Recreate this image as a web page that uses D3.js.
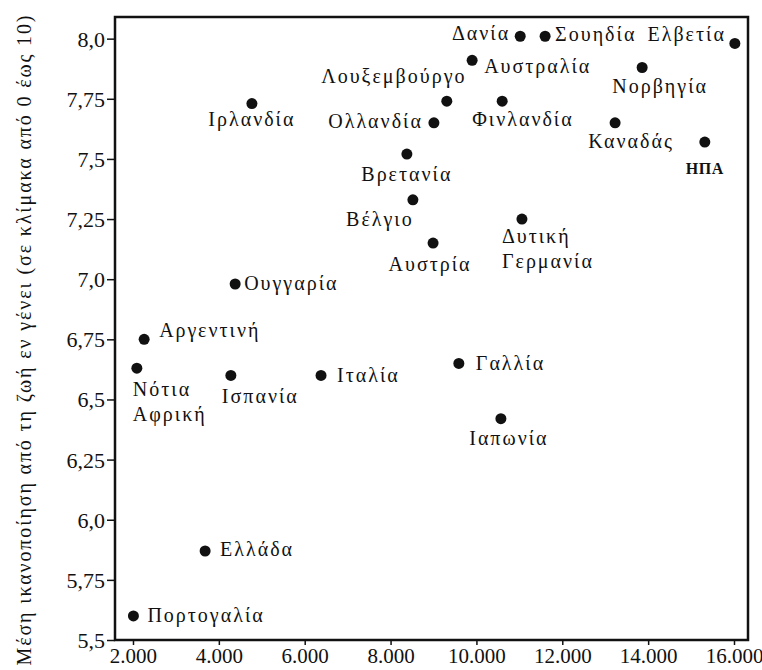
<!DOCTYPE html>
<html>
<head>
<script src="https://cdn.jsdelivr.net/npm/d3@7"></script>
</head>
<body style="margin:0">
<div class="scatter"></div>
<script>
// DATA -----------------------------------
var countries = ["Δανία", "Σουηδία", "Ελβετία", "Αυστραλία", "Νορβηγία", "Λουξεμβούργο",
  "Φινλανδία", "Ολλανδία", "Ιρλανδία", "Καναδάς", "ΗΠΑ", "Βρετανία", "Βέλγιο", "Αυστρία",
  "Δυτική Γερμανία", "Ουγγαρία", "Αργεντινή", "Νότια Αφρική", "Ισπανία", "Ιταλία",
  "Γαλλία", "Ιαπωνία", "Ελλάδα", "Πορτογαλία"];

// income per head (x) and mean life satisfaction (y)
var income = [11020, 11600, 16020, 9900, 13860, 9310,
  10600, 9010, 4770, 13230, 15320, 8380, 8520, 8990,
  11060, 4380, 2260, 2090, 4280, 6380,
  9590, 10570, 3680, 2010];
var satisfaction = [8.01, 8.01, 7.98, 7.91, 7.88, 7.74,
  7.74, 7.65, 7.73, 7.65, 7.57, 7.52, 7.33, 7.15,
  7.25, 6.98, 6.75, 6.63, 6.60, 6.60,
  6.65, 6.42, 5.87, 5.60];

var xTicks = [2000, 4000, 6000, 8000, 10000, 12000, 14000, 16000];
var yTicks = [5.5, 5.75, 6.0, 6.25, 6.5, 6.75, 7.0, 7.25, 7.5, 7.75, 8.0];
var yTitle = "Μέση ικανοποίηση από τη ζωή εν γένει (σε κλίμακα από 0 έως 10)";

// label placement (dx, dy, anchor) relative to the dot
var labelPos = {
  "Δανία": [-10, 4, "end"],
  "Σουηδία": [10, 5, "start"],
  "Ελβετία": [-9, -2, "end"],
  "Αυστραλία": [12, 13, "start"],
  "Νορβηγία": [18, 25, "middle"],
  "Λουξεμβούργο": [-53, -18, "middle"],
  "Φινλανδία": [-30, 25, "start"],
  "Ολλανδία": [-11, 5, "end"],
  "Ιρλανδία": [0, 22, "middle"],
  "Καναδάς": [16, 25, "middle"],
  "ΗΠΑ": [0, 32, "middle"],
  "Βρετανία": [0, 27, "middle"],
  "Βέλγιο": [-33, 26, "middle"],
  "Αυστρία": [-3, 28, "middle"],
  "Δυτική Γερμανία": [-20, 24, "start"],
  "Ουγγαρία": [9, 6, "start"],
  "Αργεντινή": [15, -2, "start"],
  "Νότια Αφρική": [-4, 28, "start"],
  "Ισπανία": [-9, 28, "start"],
  "Ιταλία": [16, 7, "start"],
  "Γαλλία": [17, 7, "start"],
  "Ιαπωνία": [8, 26, "middle"],
  "Ελλάδα": [15, 5, "start"],
  "Πορτογαλία": [14, 6, "start"]
};
var twoLine = ["Δυτική Γερμανία", "Νότια Αφρική"];

var fontFam = "'Liberation Serif'";

// SET UP SVG -----------------------------------
var svgWidth = 762;
var svgHeight = 670;
var margin = { top: 17, right: 14, bottom: 30, left: 115 };
var chartWidth = svgWidth - margin.left - margin.right;
var chartHeight = svgHeight - margin.top - margin.bottom;

var svg = d3.select(".scatter")
  .append("svg")
  .attr("width", svgWidth)
  .attr("height", svgHeight);

var chartGroup = svg.append("g")
  .attr("transform", `translate(${margin.left}, ${margin.top})`);

// greek number format: 2.000 and 7,75
var grLocale = d3.formatLocale({ decimal: ",", thousands: ".", grouping: [3], currency: ["", "€"] });
var fmtX = grLocale.format(",");
function fmtY(v) {
  return Number.isInteger(v) ? grLocale.format(".1f")(v) : String(v).replace(".", ",");
}

var xScale = d3.scaleLinear().domain([1581, 16326]).range([0, chartWidth]);
var yScale = d3.scaleLinear().domain([5.5, 8.09]).range([chartHeight, 0]);

// axes
var bottomAxis = d3.axisBottom(xScale).tickValues(xTicks).tickFormat(fmtX).tickSize(5).tickPadding(3);
var leftAxis = d3.axisLeft(yScale).tickValues(yTicks).tickFormat(fmtY).tickSize(8).tickPadding(2);

var gx = chartGroup.append("g")
  .attr("transform", `translate(0, ${chartHeight})`)
  .call(bottomAxis);
var gy = chartGroup.append("g").call(leftAxis);

[gx, gy].forEach(function(g) {
  g.attr("font-family", null).attr("font-size", null);
  g.select(".domain").remove();
  g.selectAll(".tick line").attr("stroke", "#111").attr("stroke-width", 1.5);
  g.selectAll(".tick text")
    .style("font-family", fontFam)
    .style("font-size", "22px")
    .attr("fill", "#111");
});
gx.selectAll(".tick text").style("font-size", "21px");
gy.selectAll(".tick text").attr("dy", "0.34em");

// frame
chartGroup.append("rect")
  .attr("x", 0).attr("y", 0)
  .attr("width", chartWidth).attr("height", chartHeight)
  .attr("fill", "none")
  .attr("stroke", "#111")
  .attr("stroke-width", 2.5);

// y-axis title
svg.append("text")
  .attr("transform", `translate(31, ${margin.top + chartHeight / 2 + 12}) rotate(-90)`)
  .attr("text-anchor", "middle")
  .attr("textLength", 650)
  .attr("lengthAdjust", "spacing")
  .style("font-family", fontFam)
  .style("font-size", "20px")
  .attr("fill", "#111")
  .text(yTitle);

// points
var points = countries.map(function(c, i) {
  return { name: c, x: income[i], y: satisfaction[i] };
});

chartGroup.selectAll("circle")
  .data(points)
  .enter()
  .append("circle")
  .attr("r", 5.5)
  .attr("cx", d => xScale(d.x))
  .attr("cy", d => yScale(d.y))
  .attr("fill", "#111");

// labels
var labels = chartGroup.selectAll("text.lbl")
  .data(points)
  .enter()
  .append("text")
  .attr("class", "lbl")
  .attr("x", d => xScale(d.x) + labelPos[d.name][0])
  .attr("y", d => yScale(d.y) + labelPos[d.name][1])
  .attr("text-anchor", d => labelPos[d.name][2])
  .style("font-family", fontFam)
  .style("font-size", "20px")
  .style("letter-spacing", "2px")
  .attr("fill", "#111");

labels.each(function(d) {
  var t = d3.select(this);
  if (twoLine.indexOf(d.name) >= 0) {
    var parts = d.name.split(" ");
    var x0 = xScale(d.x) + labelPos[d.name][0];
    t.append("tspan").attr("x", x0).text(parts[0]);
    t.append("tspan").attr("x", x0).attr("dy", 25).text(parts[1]);
  } else {
    t.text(d.name);
  }
  if (d.name === "ΗΠΑ") {
    t.style("font-size", "16px").style("letter-spacing", "0.5px").style("font-weight", "bold");
  }
});
</script>
</body>
</html>
